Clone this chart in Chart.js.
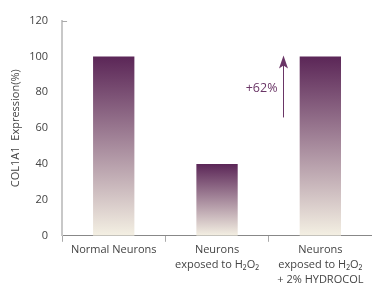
<!DOCTYPE html>
<html>
<head>
<meta charset="utf-8">
<script src="https://cdn.jsdelivr.net/npm/chart.js@4.4.0/dist/chart.umd.min.js"></script>
<style>
  html, body { margin: 0; padding: 0; background: #fff; }
  #wrap { width: 372px; height: 289px; }
</style>
</head>
<body>
<div id="wrap"><canvas id="chart"></canvas></div>
<script>
var categories = [
    ["Normal Neurons"],
    ["Neurons", "exposed to H\u2082O\u2082"],
    ["Neurons", "exposed to H\u2082O\u2082", "+ 2% HYDROCOL"]
];
var expression = [100, 40, 100];
var arrowFrom = 66;
var arrowTo = 100;
var arrowLabel = "+62%";

var purple = '#5b2657';
var cream = '#f4f0e3';

// gradient per bar, from top of bar down to the baseline
function barGradient(context) {
    var chart = context.chart;
    var area = chart.chartArea;
    if (!area) return purple;
    var y = chart.scales.y;
    var top = y.getPixelForValue(context.raw);
    var bottom = y.getPixelForValue(0);
    var g = chart.ctx.createLinearGradient(0, top, 0, bottom);
    g.addColorStop(0, purple);
    g.addColorStop(1, cream);
    return g;
}

// arrow + percentage text, placed with the chart scales
var arrowPlugin = {
    id: 'arrowPlugin',
    afterDatasetsDraw: function(chart) {
        var ctx = chart.ctx;
        var xs = chart.scales.x;
        var ys = chart.scales.y;
        var step = xs.getPixelForValue(2) - xs.getPixelForValue(1);
        var x = Math.round(xs.getPixelForValue(2) - step * 0.36) + 0.5;
        var y1 = ys.getPixelForValue(arrowFrom);
        var y2 = ys.getPixelForValue(arrowTo);
        ctx.save();
        // small cap tick at top of y axis
        ctx.strokeStyle = '#aaa';
        ctx.lineWidth = 1;
        ctx.beginPath();
        ctx.moveTo(ys.right, Math.round(ys.top) + 0.5);
        ctx.lineTo(ys.right + 5, Math.round(ys.top) + 0.5);
        ctx.stroke();

        ctx.strokeStyle = '#6a3566';
        ctx.fillStyle = '#6a3566';
        ctx.beginPath();
        ctx.moveTo(x, y1);
        ctx.lineTo(x, y2 + 8);
        ctx.stroke();
        ctx.beginPath();
        ctx.moveTo(x, y2 - 1);
        ctx.lineTo(x - 4.5, y2 + 12);
        ctx.lineTo(x, y2 + 9);
        ctx.lineTo(x + 4.5, y2 + 12);
        ctx.closePath();
        ctx.fill();
        ctx.font = '12.5px "Open Sans"';
        ctx.textAlign = 'right';
        ctx.textBaseline = 'middle';
        ctx.fillText(arrowLabel, x - 6, ys.getPixelForValue((arrowFrom + arrowTo) / 2 - 1));
        ctx.restore();
    }
};

var ctx = document.getElementById("chart").getContext("2d");
var myChart = new Chart(ctx, {
    type: "bar",
    data: {
        labels: categories,
        datasets: [{
            data: expression,
            backgroundColor: barGradient,
            borderWidth: 0,
            barPercentage: 0.4,
            categoryPercentage: 1.0,
        }],
    },
    options: {
        responsive: true,
        maintainAspectRatio: false,
        animation: false,
        layout: {
            padding: { top: 16, right: 0, left: 9, bottom: 1 }
        },
        plugins: {
            legend: { display: false },
            tooltip: { enabled: false },
        },
        scales: {
            x: {
                afterFit: function(scale) {
                    scale.paddingLeft = 0;
                    scale.paddingRight = 0;
                },
                grid: {
                    display: true,
                    drawOnChartArea: false,
                    offset: true,
                    tickLength: 6,
                    color: '#aaa',
                },
                border: { color: '#888', width: 1 },
                ticks: {
                    color: '#444',
                    font: { family: 'Open Sans', size: 11, lineHeight: 1.4 },
                    maxRotation: 0,
                    padding: 0,
                },
            },
            y: {
                min: 0,
                max: 120,
                // tick padding is counted twice in the width, take one back
                afterFit: function(scale) {
                    scale.width -= scale.options.ticks.padding - 2;
                },
                ticks: {
                    stepSize: 20,
                    color: '#444',
                    font: { family: 'Open Sans', size: 11 },
                    padding: 14,
                },
                grid: {
                    display: false,
                    drawTicks: false,
                },
                border: { color: '#c8c8c8', width: 2 },
                title: {
                    display: true,
                    text: 'COL1A1  Expression(%)',
                    color: '#444',
                    font: { family: 'Open Sans', size: 11 },
                    padding: { top: 0, bottom: 5 },
                },
            },
        },
    },
    plugins: [arrowPlugin],
});
</script>
</body>
</html>
